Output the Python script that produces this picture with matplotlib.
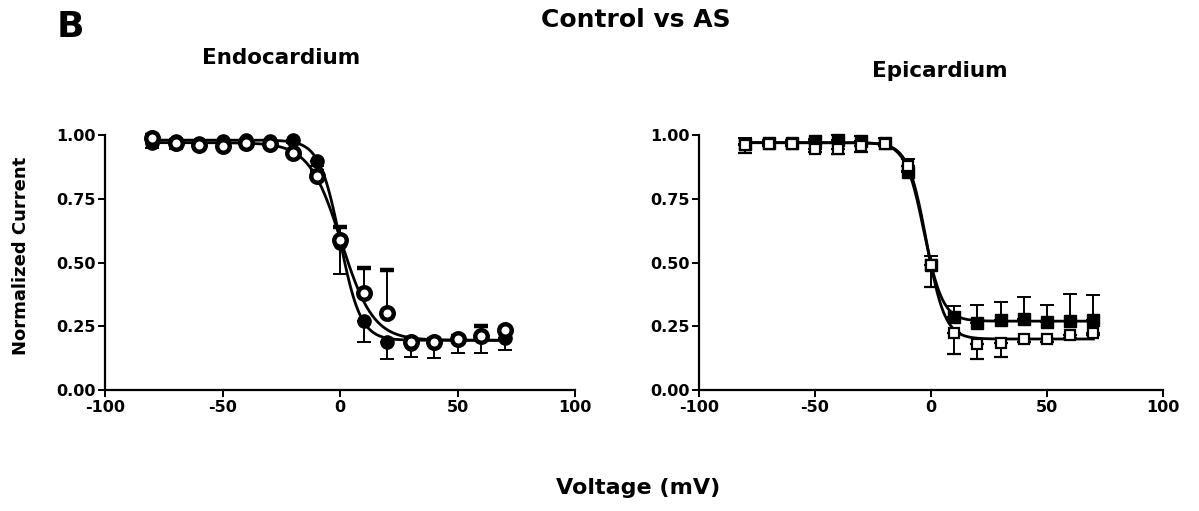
import numpy as np
import matplotlib
matplotlib.use("Agg")
import matplotlib.pyplot as plt

plt.rcParams['font.family'] = ['DejaVu Sans']
plt.rcParams['axes.unicode_minus'] = False

# voltage steps (mV)
voltage = [-80, -70, -60, -50, -40, -30, -20, -10, 0, 10, 20, 30, 40, 50, 60, 70]

# Endocardium
endo_ctrl = [0.97, 0.975, 0.97, 0.975, 0.98, 0.975, 0.98, 0.90, 0.575, 0.27, 0.19, 0.18, 0.185, 0.195, 0.215, 0.205]
endo_ctrl_err_lo = [0.02, 0.03, 0.01, 0.01, 0.01, 0.01, 0.01, 0.02, 0.12, 0.08, 0.07, 0.05, 0.06, 0.05, 0.07, 0.05]
endo_as = [0.99, 0.97, 0.96, 0.955, 0.97, 0.965, 0.93, 0.84, 0.59, 0.38, 0.30, 0.19, 0.19, 0.20, 0.21, 0.235]
endo_as_err_hi = [0.01, 0.01, 0.01, 0.01, 0.01, 0.01, 0.01, 0.02, 0.05, 0.10, 0.17, 0.01, 0.01, 0.01, 0.04, 0.01]

# Epicardium
epi_ctrl = [0.965, 0.97, 0.97, 0.975, 0.98, 0.975, 0.97, 0.855, 0.49, 0.285, 0.262, 0.275, 0.28, 0.265, 0.27, 0.274]
epi_ctrl_err_hi = [0.025, 0.01, 0.01, 0.01, 0.02, 0.02, 0.02, 0.05, 0.035, 0.045, 0.073, 0.07, 0.085, 0.07, 0.105, 0.10]
epi_as = [0.96, 0.965, 0.965, 0.945, 0.945, 0.955, 0.965, 0.88, 0.49, 0.225, 0.18, 0.185, 0.20, 0.20, 0.215, 0.225]
epi_as_err_lo = [0.03, 0.01, 0.01, 0.01, 0.02, 0.02, 0.01, 0.02, 0.085, 0.085, 0.057, 0.055, 0.01, 0.01, 0.01, 0.01]

# Boltzmann fit parameters: top, bottom, V1/2, slope
endo_ctrl_fit = (0.98, 0.195, 0.0, 4.4)
endo_as_fit = (0.97, 0.195, 0.5, 6.8)
epi_ctrl_fit = (0.97, 0.27, -3.0, 4.0)
epi_as_fit = (0.97, 0.20, -2.0, 4.0)


def boltzmann(v, p):
    top, bottom, vh, k = p
    return bottom + (top - bottom) / (1 + np.exp((v - vh) / k))


def style_axes(ax):
    ax.set_xlim(-100, 100)
    ax.set_ylim(0, 1.0)
    ax.spines['top'].set_visible(False)
    ax.spines['right'].set_visible(False)
    ax.spines['left'].set_linewidth(1.6)
    ax.spines['bottom'].set_linewidth(1.6)
    ax.set_xticks([-100, -50, 0, 50, 100])
    ax.set_yticks([0, 0.25, 0.5, 0.75, 1.0])
    ax.set_yticklabels(['0.00', '0.25', '0.50', '0.75', '1.00'])
    ax.tick_params(direction='out', length=5, width=1.4, labelsize=11.5, pad=2)
    for lab in ax.get_xticklabels() + ax.get_yticklabels():
        lab.set_fontweight('bold')


fig = plt.figure(figsize=(11.99, 5.11), dpi=100)
ax1 = fig.add_axes([0.0876, 0.2368, 0.392, 0.499])
ax2 = fig.add_axes([0.583, 0.2368, 0.387, 0.499])

v = np.array(voltage)
vfit = np.linspace(-80, 70, 400)
zeros = np.zeros(len(voltage))

# Endocardium panel
ax1.plot(vfit, boltzmann(vfit, endo_ctrl_fit), color='black', lw=2, clip_on=False)
ax1.plot(vfit, boltzmann(vfit, endo_as_fit), color='black', lw=2, clip_on=False)
ax1.errorbar(v, endo_ctrl, yerr=[endo_ctrl_err_lo, zeros], fmt='o', color='black',
             ms=9.5, elinewidth=1.4, capsize=5, capthick=1.4, clip_on=False)
ax1.errorbar(v, endo_as, yerr=[zeros, endo_as_err_hi], fmt='o', color='black', mfc='white',
             mec='black', mew=3.2, ms=9, elinewidth=1.4, capsize=5, capthick=1.4, clip_on=False)
style_axes(ax1)

# Epicardium panel
ax2.plot(vfit, boltzmann(vfit, epi_ctrl_fit), color='black', lw=2, clip_on=False)
ax2.plot(vfit, boltzmann(vfit, epi_as_fit), color='black', lw=2, clip_on=False)
ax2.errorbar(v, epi_ctrl, yerr=[zeros, epi_ctrl_err_hi], fmt='s', color='black',
             ms=8, elinewidth=1.4, capsize=5, capthick=1.4, clip_on=False)
ax2.errorbar(v, epi_as, yerr=[epi_as_err_lo, zeros], fmt='s', color='black', mfc='white',
             mec='black', mew=1.6, ms=7.5, elinewidth=1.4, capsize=5, capthick=1.4, clip_on=False)
style_axes(ax2)

fig.text(0.047, 0.9276, 'B', fontsize=26, fontweight='bold', ha='left', va='baseline')
fig.text(0.53, 0.947, 'Control vs AS', fontsize=18, fontweight='bold', ha='center', va='baseline')
fig.text(0.2343, 0.875, 'Endocardium', fontsize=15.5, fontweight='bold', ha='center', va='baseline')
fig.text(0.784, 0.849, 'Epicardium', fontsize=15.5, fontweight='bold', ha='center', va='baseline')
fig.text(0.532, 0.033, 'Voltage (mV)', fontsize=16, fontweight='bold', ha='center', va='baseline')
fig.text(0.0175, 0.50, 'Normalized Current', fontsize=13, fontweight='bold', rotation=90,
         ha='center', va='center')

fig.savefig('out.png', dpi=100)
